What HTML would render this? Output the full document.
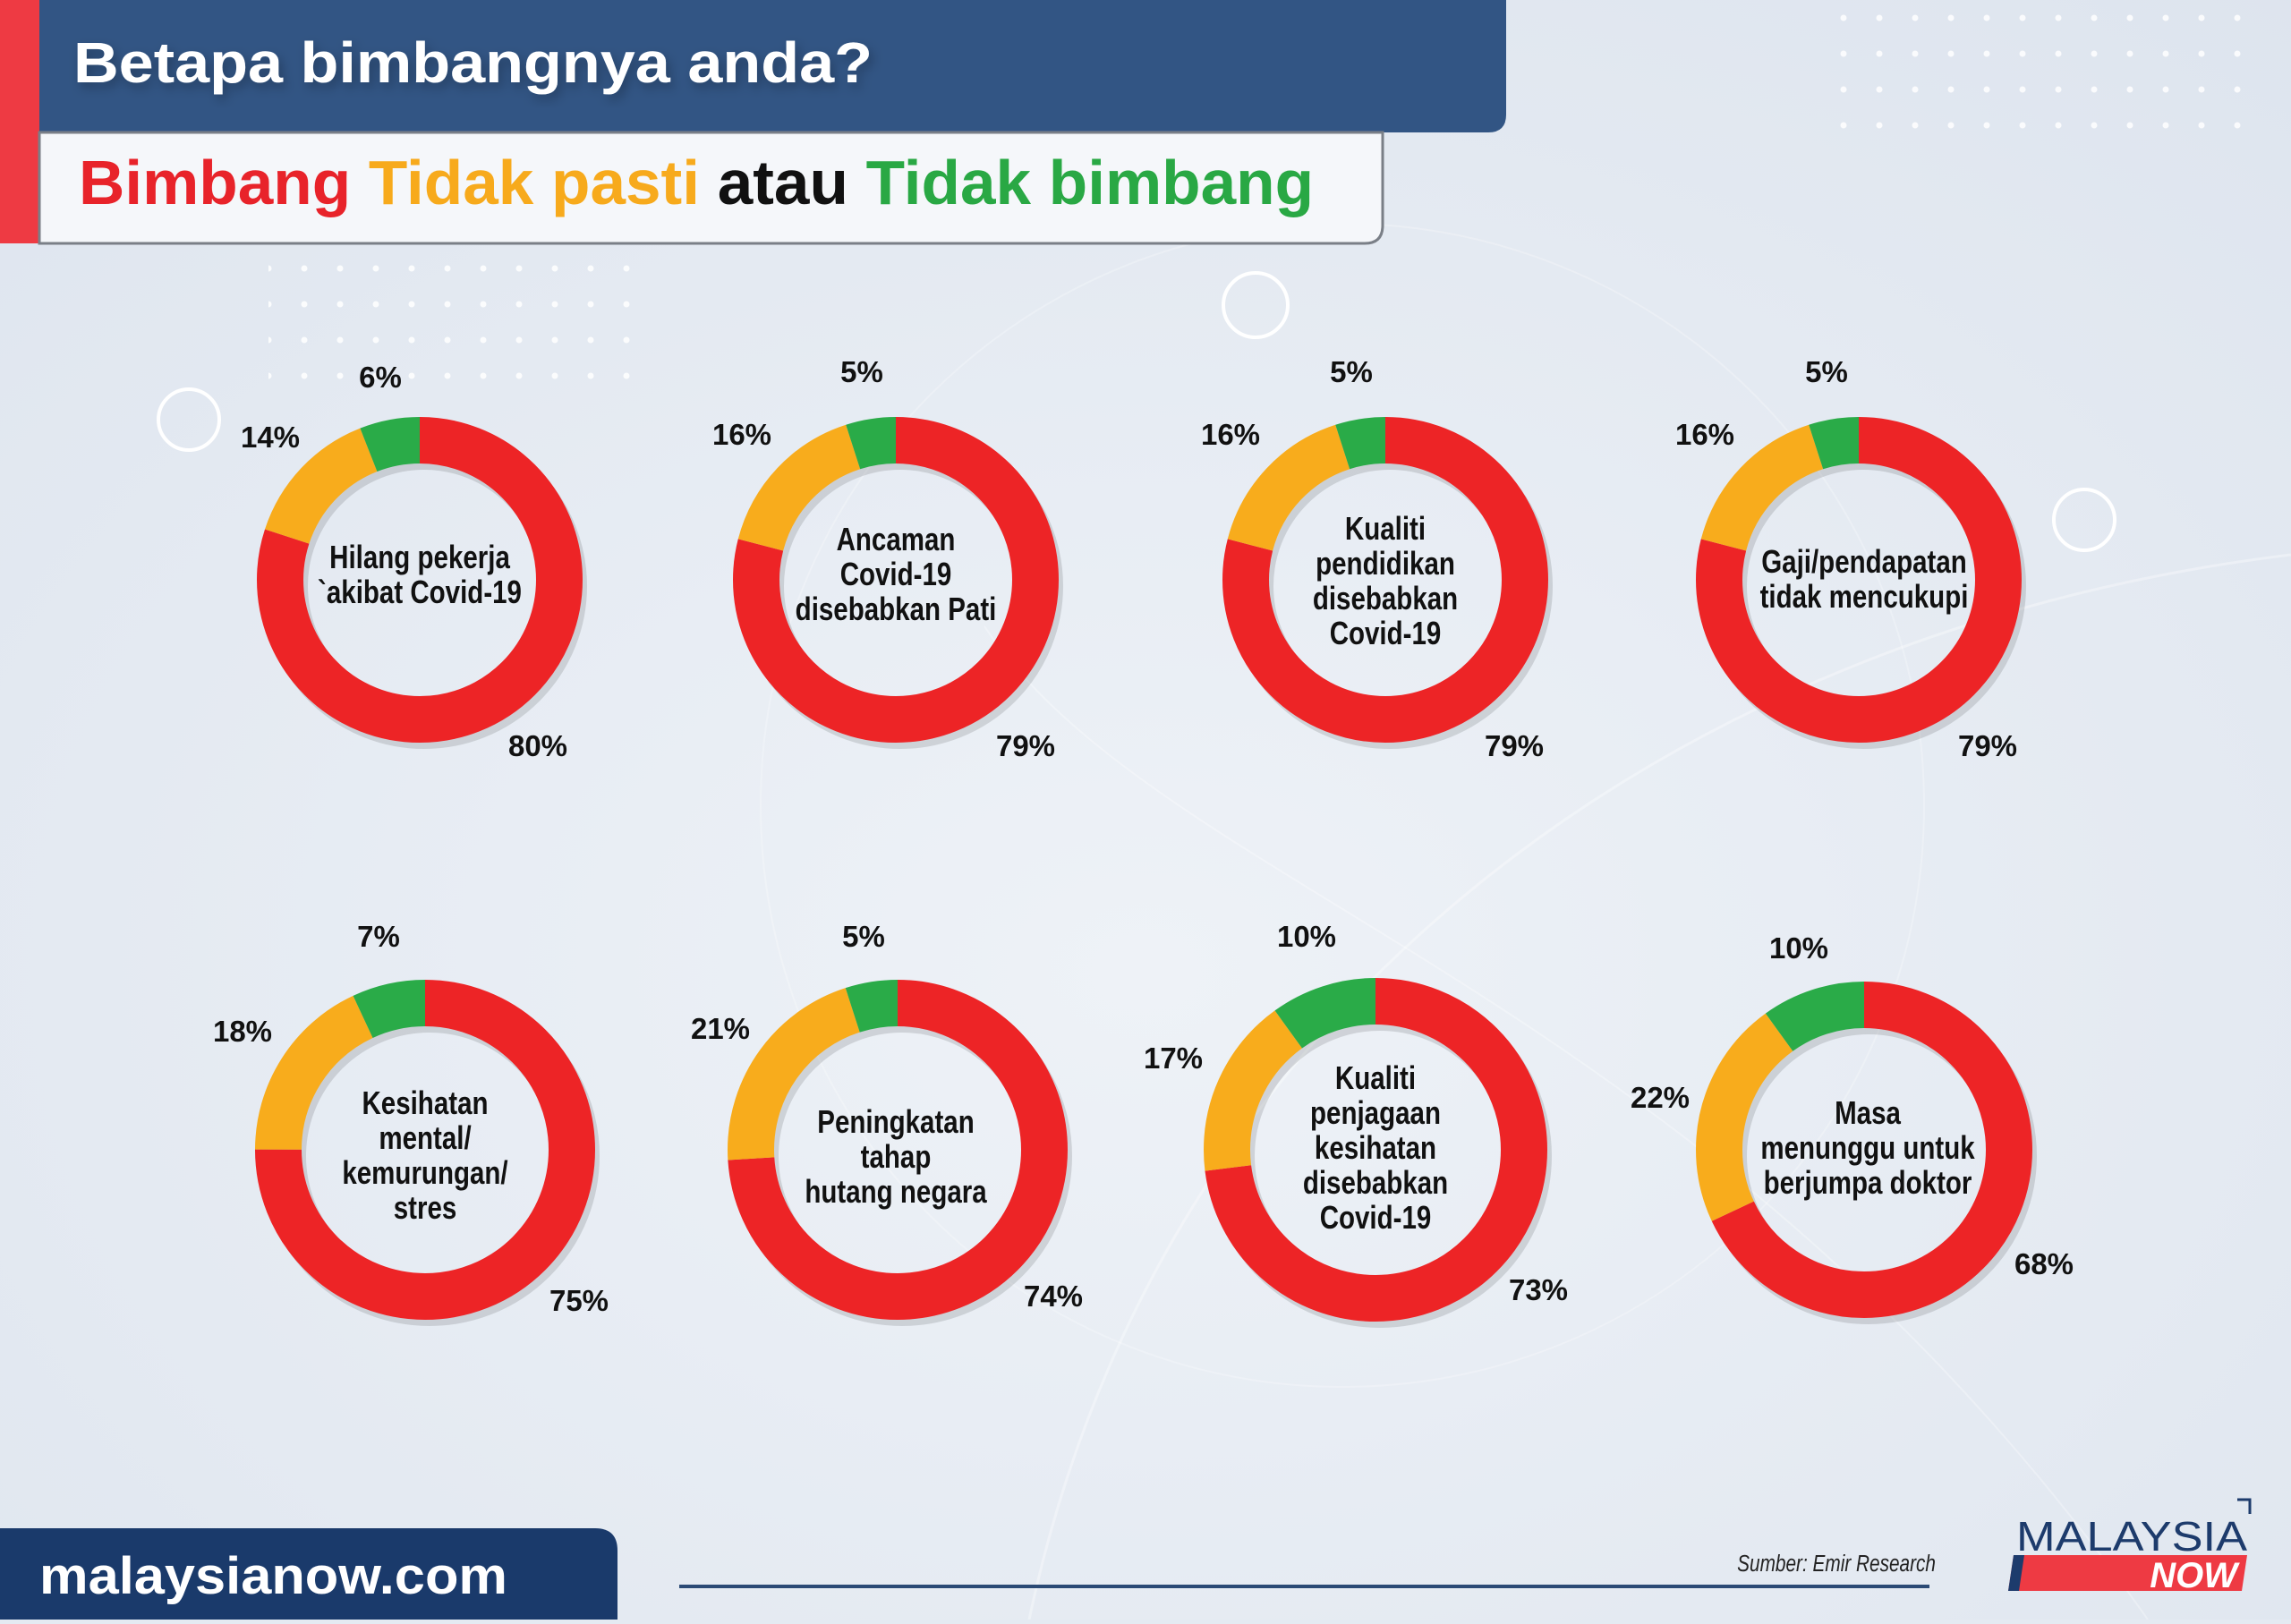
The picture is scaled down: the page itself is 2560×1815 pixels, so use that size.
<!DOCTYPE html>
<html><head><meta charset="utf-8"><style>
html,body{margin:0;padding:0;}
body{width:2560px;height:1810px;overflow:hidden;background:#e4eaf2;}
svg text{font-family:"Liberation Sans",sans-serif;}
</style></head><body>
<svg width="2560" height="1810" viewBox="0 0 2560 1810" xmlns="http://www.w3.org/2000/svg">
<defs>
<radialGradient id="bg" cx="0.5" cy="0.6" r="0.8">
<stop offset="0" stop-color="#eef2f7"/><stop offset="1" stop-color="#dde4ee"/>
</radialGradient>
<pattern id="dots" width="40" height="40" patternUnits="userSpaceOnUse"><circle cx="20" cy="20" r="3.5" fill="#fff" opacity="0.85"/></pattern>
<filter id="sh" x="-20%" y="-20%" width="140%" height="140%"><feDropShadow dx="4" dy="6" stdDeviation="6" flood-color="#000" flood-opacity="0.25"/></filter>
</defs>
<rect width="2560" height="1810" fill="url(#bg)"/>
<path d="M1150 1810 C1300 1100 1900 700 2560 620" fill="none" stroke="#fff" stroke-width="3" opacity="0.35"/>
<path d="M1100 700 C1300 1000 1900 1100 2400 1810" fill="none" stroke="#fff" stroke-width="2" opacity="0.3"/>
<circle cx="1500" cy="900" r="650" fill="none" stroke="#fff" stroke-width="2" opacity="0.25"/>
<rect x="300" y="270" width="420" height="180" fill="url(#dots)"/>
<rect x="2040" y="0" width="480" height="160" fill="url(#dots)"/>
<circle cx="211" cy="469" r="34" fill="none" stroke="#fff" stroke-width="4"/>
<circle cx="1403" cy="341" r="36" fill="none" stroke="#fff" stroke-width="4"/>
<circle cx="2329" cy="581" r="34" fill="none" stroke="#fff" stroke-width="4"/>

<!-- header -->
<rect x="0" y="0" width="44" height="272" fill="#ee3a43"/>
<path d="M44 0 H1683 V128 Q1683 148 1663 148 H44 Z" fill="#325584"/>
<text x="82" y="92" font-size="64" font-weight="bold" fill="#fff" filter="url(#sh)" textLength="893" lengthAdjust="spacingAndGlyphs">Betapa bimbangnya anda?</text>
<path d="M44 148 H1545 V252 Q1545 272 1525 272 H44 Z" fill="#f5f7fa" stroke="#7a7f87" stroke-width="3"/>
<text x="88" y="228" font-size="70" font-weight="bold" textLength="1380" lengthAdjust="spacingAndGlyphs"><tspan fill="#e8232a">Bimbang</tspan> <tspan fill="#f7aa1c">Tidak pasti</tspan> <tspan fill="#111">atau</tspan> <tspan fill="#29a844">Tidak bimbang</tspan></text>

<!-- donuts -->
<g id="donuts"></g>
<g font-weight="bold" font-size="33" fill="#111" text-anchor="middle">
<text x="425" y="433">6%</text><text x="302" y="500">14%</text><text x="601" y="845">80%</text>
<text x="963" y="427">5%</text><text x="829" y="497">16%</text><text x="1146" y="845">79%</text>
<text x="1510" y="427">5%</text><text x="1375" y="497">16%</text><text x="1692" y="845">79%</text>
<text x="2041" y="427">5%</text><text x="1905" y="497">16%</text><text x="2221" y="845">79%</text>
<text x="423" y="1058">7%</text><text x="271" y="1164">18%</text><text x="647" y="1465">75%</text>
<text x="965" y="1058">5%</text><text x="805" y="1161">21%</text><text x="1177" y="1460">74%</text>
<text x="1460" y="1058">10%</text><text x="1311" y="1194">17%</text><text x="1719" y="1453">73%</text>
<text x="2010" y="1071">10%</text><text x="1855" y="1238">22%</text><text x="2284" y="1424">68%</text>
</g>
<g font-weight="bold" font-size="36" fill="#111" text-anchor="middle">
<g transform="translate(469,0) scale(0.82,1)"><text x="0" y="635">Hilang pekerja</text><text x="0" y="674">`akibat Covid-19</text></g>
<g transform="translate(1001,0) scale(0.82,1)"><text x="0" y="615">Ancaman</text><text x="0" y="654">Covid-19</text><text x="0" y="693">disebabkan Pati</text></g>
<g transform="translate(1548,0) scale(0.82,1)"><text x="0" y="603">Kualiti</text><text x="0" y="642">pendidikan</text><text x="0" y="681">disebabkan</text><text x="0" y="720">Covid-19</text></g>
<g transform="translate(2083,0) scale(0.82,1)"><text x="0" y="640">Gaji/pendapatan</text><text x="0" y="679">tidak mencukupi</text></g>
<g transform="translate(475,0) scale(0.82,1)"><text x="0" y="1245">Kesihatan</text><text x="0" y="1284">mental/</text><text x="0" y="1323">kemurungan/</text><text x="0" y="1362">stres</text></g>
<g transform="translate(1001,0) scale(0.82,1)"><text x="0" y="1266">Peningkatan</text><text x="0" y="1305">tahap</text><text x="0" y="1344">hutang negara</text></g>
<g transform="translate(1537,0) scale(0.82,1)"><text x="0" y="1217">Kualiti</text><text x="0" y="1256">penjagaan</text><text x="0" y="1295">kesihatan</text><text x="0" y="1334">disebabkan</text><text x="0" y="1373">Covid-19</text></g>
<g transform="translate(2087,0) scale(0.82,1)"><text x="0" y="1256">Masa</text><text x="0" y="1295">menunggu untuk</text><text x="0" y="1334">berjumpa doktor</text></g>
</g>

<!-- footer -->
<path d="M0 1708 H665 Q690 1708 690 1733 V1810 H0 Z" fill="#1a3a6b"/>
<text x="44" y="1781" font-size="58" font-weight="bold" fill="#fff" textLength="523" lengthAdjust="spacingAndGlyphs">malaysianow.com</text>
<rect x="759" y="1771" width="1397" height="4" fill="#2b4a75"/>
<text x="2163" y="1756" font-size="26" font-style="italic" fill="#222" text-anchor="end" transform="translate(2163,0) scale(0.8,1) translate(-2163,0)">Sumber: Emir Research</text>
<text x="2253" y="1733" font-size="46" fill="#1d3b6c" textLength="258" lengthAdjust="spacingAndGlyphs">MALAYSIA</text>
<path d="M2500 1676 H2514 V1692" fill="none" stroke="#1d3b6c" stroke-width="3"/>
<polygon points="2250,1738 2511,1738 2505,1778 2244,1778" fill="#ee3a43"/>
<polygon points="2250,1738 2262,1738 2256,1778 2244,1778" fill="#1d3b6c"/>
<text x="2500" y="1774" font-size="40" font-weight="bold" font-style="italic" fill="#fff" text-anchor="end">NOW</text>
</svg>
<script>
(function(){
var d=[[469,648,182,130,80,14,6],[1001,648,182,130,79,16,5],[1548,648,182,130,79,16,5],[2077,648,182,130,79,16,5],
[475,1285,190,138,75,18,7],[1003,1285,190,138,74,21,5],[1537,1285,192,140,73,17,10],[2083,1285,188,136,68,22,10]];
var g=document.getElementById('donuts'),h='';
d.forEach(function(a){
 var r=(a[2]+a[3])/2,w=a[2]-a[3],C=2*Math.PI*r,off=0,cols=['#ed2426','#f8ac1c','#2aab48'];
 h+='<circle cx="'+a[0]+'" cy="'+a[1]+'" r="'+r+'" fill="none" stroke="#000" stroke-opacity="0.12" stroke-width="'+w+'" transform="translate(5,7)"/>';
 for(var i=0;i<3;i++){var L=C*a[4+i]/100;
  h+='<circle cx="'+a[0]+'" cy="'+a[1]+'" r="'+r+'" fill="none" stroke="'+cols[i]+'" stroke-width="'+w+'" stroke-dasharray="'+L+' '+(C-L)+'" stroke-dashoffset="'+(-off)+'" transform="rotate(-90 '+a[0]+' '+a[1]+')"/>';
  off+=L;}
});
g.innerHTML=h;
})();
</script>
</body></html>
